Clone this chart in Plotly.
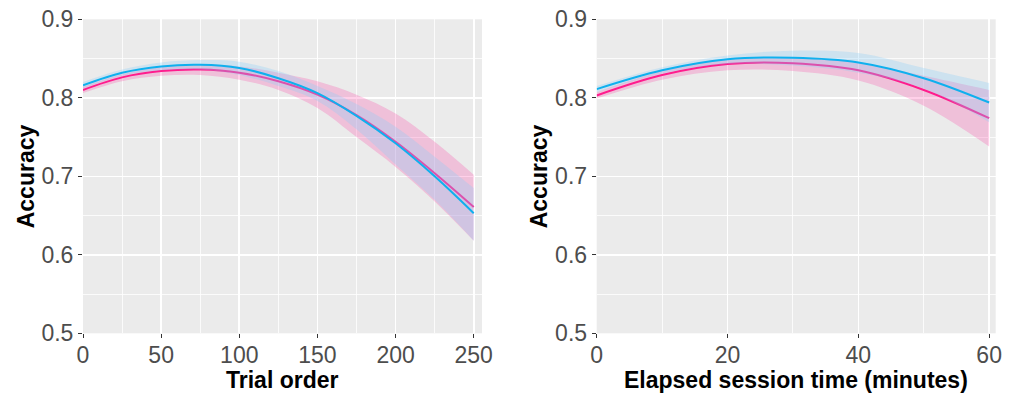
import plotly.graph_objects as go

# ---- Left panel: Trial order ----
trial_x = [0, 25, 50, 75, 100, 125, 150, 175, 200, 225, 250]
trial_blue = [0.816, 0.832, 0.840, 0.842, 0.838, 0.825, 0.806, 0.777, 0.742, 0.700, 0.653]
trial_blue_hi = [0.820, 0.836, 0.845, 0.848, 0.846, 0.834, 0.815, 0.792, 0.763, 0.725, 0.685]
trial_blue_lo = [0.812, 0.828, 0.835, 0.836, 0.829, 0.815, 0.796, 0.760, 0.715, 0.670, 0.618]
trial_pink = [0.810, 0.826, 0.834, 0.836, 0.832, 0.821, 0.804, 0.778, 0.744, 0.704, 0.661]
trial_pink_hi = [0.814, 0.830, 0.839, 0.842, 0.840, 0.832, 0.821, 0.804, 0.780, 0.744, 0.702]
trial_pink_lo = [0.806, 0.821, 0.828, 0.829, 0.823, 0.810, 0.787, 0.750, 0.712, 0.668, 0.618]

# ---- Right panel: Elapsed session time ----
time_x = [0, 10, 20, 30, 40, 50, 60]
time_blue = [0.811, 0.835, 0.849, 0.851, 0.845, 0.825, 0.794]
time_blue_hi = [0.815, 0.839, 0.854, 0.860, 0.857, 0.838, 0.819]
time_blue_lo = [0.807, 0.831, 0.843, 0.841, 0.832, 0.812, 0.769]
time_pink = [0.803, 0.829, 0.843, 0.844, 0.835, 0.810, 0.774]
time_pink_hi = [0.807, 0.834, 0.849, 0.851, 0.845, 0.828, 0.810]
time_pink_lo = [0.799, 0.823, 0.835, 0.834, 0.822, 0.790, 0.738]

y_ticks = [0.5, 0.6, 0.7, 0.8, 0.9]
trial_ticks = [0, 50, 100, 150, 200, 250]
time_ticks = [0, 20, 40, 60]

PINK = "#ff1c8d"
BLUE = "#0fb0ee"
PINK_FILL = "rgba(255,20,147,0.2)"
BLUE_FILL = "rgba(135,206,250,0.3)"
FONT = "Liberation Sans, Arial, sans-serif"

fig = go.Figure()


def add_panel(x, pink, pink_hi, pink_lo, blue, blue_hi, blue_lo, xa, ya):
    common = dict(xaxis=xa, yaxis=ya, showlegend=False, hoverinfo="skip")
    fig.add_trace(go.Scatter(x=x, y=pink_hi, mode="lines", line=dict(width=0, shape="spline"), **common))
    fig.add_trace(go.Scatter(x=x, y=pink_lo, mode="lines", line=dict(width=0, shape="spline"),
                             fill="tonexty", fillcolor=PINK_FILL, **common))
    fig.add_trace(go.Scatter(x=x, y=pink, mode="lines", line=dict(color=PINK, width=2, shape="spline"), **common))
    fig.add_trace(go.Scatter(x=x, y=blue_hi, mode="lines", line=dict(width=0, shape="spline"), **common))
    fig.add_trace(go.Scatter(x=x, y=blue_lo, mode="lines", line=dict(width=0, shape="spline"),
                             fill="tonexty", fillcolor=BLUE_FILL, **common))
    fig.add_trace(go.Scatter(x=x, y=blue, mode="lines", line=dict(color=BLUE, width=2, shape="spline"), **common))


add_panel(trial_x, trial_pink, trial_pink_hi, trial_pink_lo, trial_blue, trial_blue_hi, trial_blue_lo, "x", "y")
add_panel(time_x, time_pink, time_pink_hi, time_pink_lo, time_blue, time_blue_hi, time_blue_lo, "x2", "y2")

W, H = 1016, 394


def fx(px):
    return px / W


def fy(py):
    return (H - py) / H


ydom = [fy(333.3), fy(19.3)]

axis_common = dict(
    showgrid=True, gridcolor="white", gridwidth=1.6, zeroline=False,
    ticks="outside", ticklen=4, tickwidth=1, tickcolor="#333333",
    tickfont=dict(family=FONT, size=23, color="#4d4d4d"),
    showline=False, fixedrange=True, automargin=False,
    ticklabeloverflow="allow",
)

tick_fmt = lambda v: ("%g" % v)

fig.update_layout(
    template="none",
    width=W, height=H,
    margin=dict(l=0, r=0, t=0, b=0, pad=0),
    paper_bgcolor="white",
    plot_bgcolor="#ebebeb",
    xaxis=dict(domain=[fx(83), fx(482)], range=[0, 255.3], tickvals=trial_ticks,
               ticktext=[tick_fmt(v) for v in trial_ticks], ticklabelstandoff=-3,
               minor=dict(dtick=25, tick0=0, showgrid=True, gridcolor="white", gridwidth=0.8, ticks=""),
               anchor="y", **axis_common),
    yaxis=dict(domain=ydom, range=[0.5, 0.9], tickvals=y_ticks,
               ticktext=["%.1f" % v for v in y_ticks],
               minor=dict(dtick=0.05, tick0=0.5, showgrid=True, gridcolor="white", gridwidth=0.8, ticks=""),
               anchor="x", **axis_common),
    xaxis2=dict(domain=[fx(596.7), fx(995.7)], range=[0, 61], tickvals=time_ticks,
                ticktext=[tick_fmt(v) for v in time_ticks], ticklabelstandoff=-3,
                minor=dict(dtick=10, tick0=0, showgrid=True, gridcolor="white", gridwidth=0.8, ticks=""),
                anchor="y2", **axis_common),
    yaxis2=dict(domain=ydom, range=[0.5, 0.9], tickvals=y_ticks,
                ticktext=["%.1f" % v for v in y_ticks],
                minor=dict(dtick=0.05, tick0=0.5, showgrid=True, gridcolor="white", gridwidth=0.8, ticks=""),
                anchor="x2", **axis_common),
)

title_font = dict(family=FONT, size=23, color="black")
annotations = [
    dict(text="<b>Trial order</b>", x=fx((83 + 482) / 2), y=fy(380)),
    dict(text="<b>Elapsed session time (minutes)</b>", x=fx((596.7 + 995.7) / 2), y=fy(380)),
    dict(text="<b>Accuracy</b>", x=fx(26), y=fy(176.3), textangle=-90),
    dict(text="<b>Accuracy</b>", x=fx(539), y=fy(176.3), textangle=-90),
]
for a in annotations:
    fig.add_annotation(xref="paper", yref="paper", showarrow=False, font=title_font,
                       xanchor="center", yanchor="middle", **a)

# remove the page's default body margin so the figure sits at the window origin
fig.write_html("out.html", config={"displayModeBar": False, "staticPlot": True},
               post_script="document.body.style.margin='0';document.body.style.overflow='hidden';")
